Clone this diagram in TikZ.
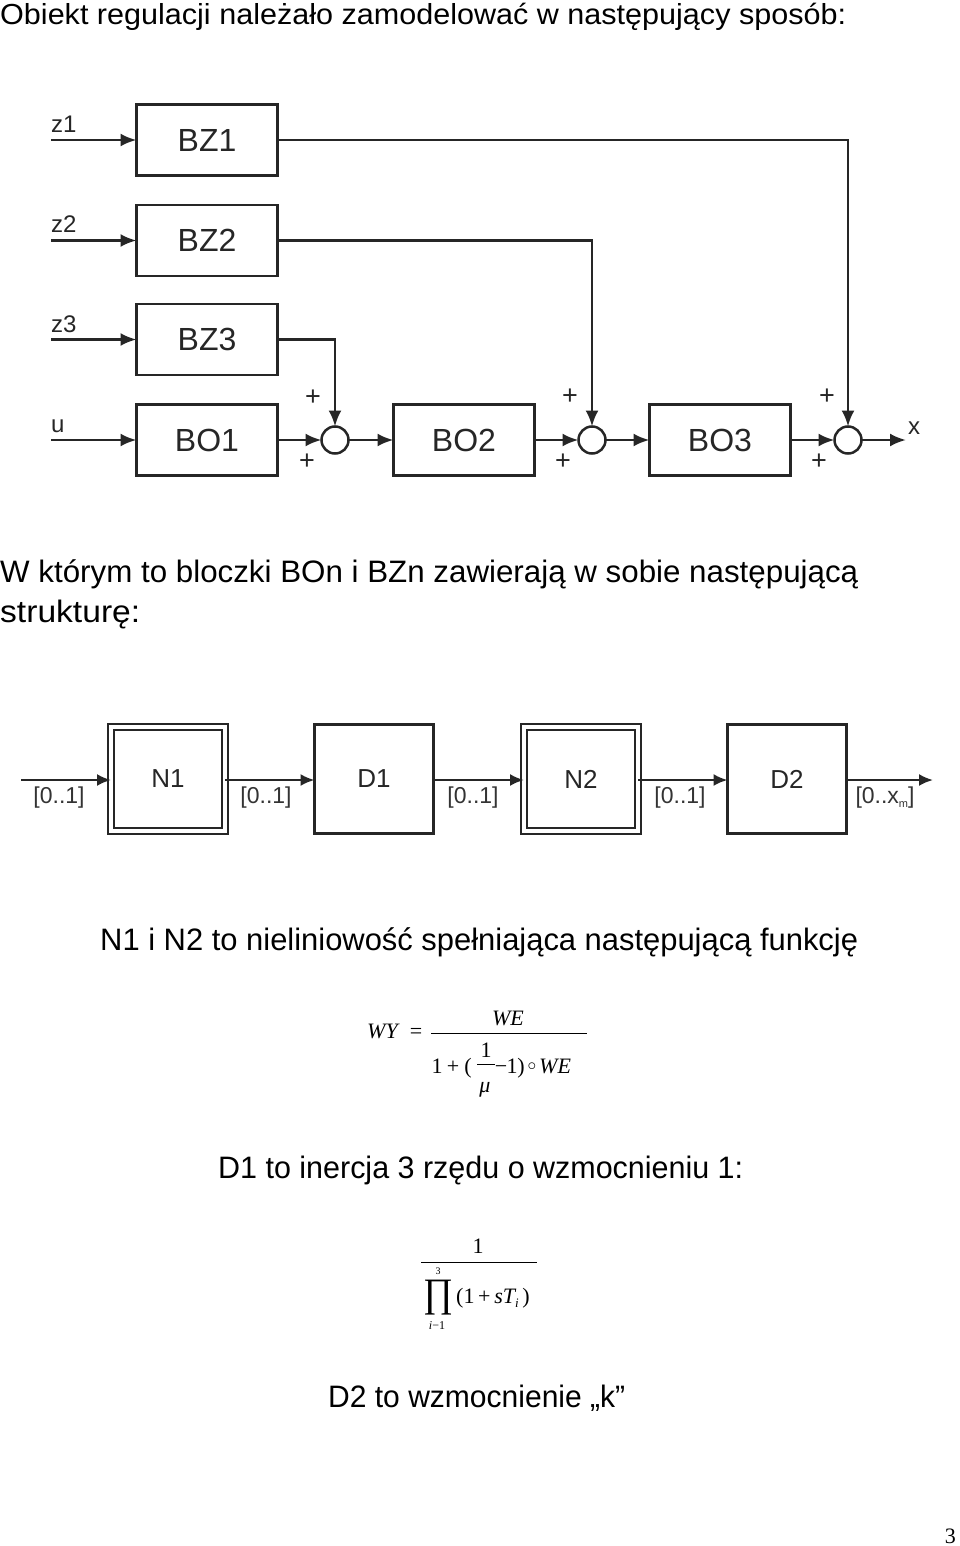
\documentclass[tikz,border=0pt]{standalone}
\usepackage{fontspec}
\usepackage{graphicx}
\setmainfont{Liberation Sans}
\newfontfamily\tms{Liberation Serif}
\usetikzlibrary{arrows.meta}
\newcommand{\fs}[1]{\fontsize{#1}{#1}\selectfont}
\begin{document}
\begin{tikzpicture}[x=1pt,y=-1pt,
  blk/.style={draw=black!85, line width=2.6pt, minimum width=141pt, minimum height=71pt, inner sep=0pt, outer sep=0pt, font=\fs{32}, text=black!85},
  sumc/.style={draw=black!85, circle, line width=2.5pt, minimum size=27pt, inner sep=0pt, outer sep=0pt},
  sig/.style={draw=black!85, line width=2.6pt, -{Latex[length=16pt,width=13pt]}},
  lbl/.style={font=\fs{24}, inner sep=0pt, text=black!85},
  pl/.style={font=\fs{27}, inner sep=0pt, text=black!85},
  sblk/.style={draw=black!85, line width=2.4pt, minimum width=119pt, minimum height=109pt, inner sep=0pt, outer sep=0pt, font=\fs{26}, text=black!85},
  dblk/.style={sblk, double, double distance=4pt, line width=2.2pt, minimum width=114pt, minimum height=104pt},
  ssig/.style={draw=black!85, line width=2.2pt, -{Latex[length=14pt,width=12pt]}},
  rng/.style={font=\fs{23}, inner sep=0pt, text=black!80},
  body/.style={anchor=base west, inner sep=0pt},
  mth/.style={inner sep=0pt, font=\tms\fs{22}}
]
\useasboundingbox (0,0) rectangle (960,1546);
\fill[white] (0,0) rectangle (960,1546);

% ---- texts ----
\node[body] (t1) at (0,25) {\resizebox{846pt}{\height}{\fs{29}Obiekt regulacji należało zamodelować w następujący sposób:}};
\node[body] (t2) at (0,582) {\resizebox{858pt}{\height}{\fs{31}W którym to bloczki BOn i BZn zawierają w sobie następującą}};
\node[body] (t3) at (0,622) {\resizebox{140pt}{\height}{\fs{31}strukturę:}};
\node[body] (t4) at (100,950) {\resizebox{758pt}{\height}{\fs{31}N1 i N2 to nieliniowość spełniająca następującą funkcję}};
\node[body] (t5) at (218,1178) {\resizebox{525pt}{\height}{\fs{31}D1 to inercja 3 rzędu o wzmocnieniu 1:}};
\node[body] (t6) at (328,1407) {\resizebox{297pt}{\height}{\fs{31}D2 to wzmocnienie „k”}};
\node[anchor=base east, inner sep=0pt, font=\tms\fs{22}] (pg) at (956,1543) {3};

% ---- block diagram 1 ----
\node[blk] (BZ1) at (207,140) {BZ1};
\node[blk] (BZ2) at (207,240.5) {BZ2};
\node[blk] (BZ3) at (207,339.5) {BZ3};
\node[blk] (BO1) at (207,440) {BO1};
\node[blk] (BO2) at (464,440) {BO2};
\node[blk] (BO3) at (720,440) {BO3};
\node[sumc] (S1) at (335,440) {};
\node[sumc] (S2) at (592,440) {};
\node[sumc] (S3) at (848,440) {};

\coordinate (iz1) at (51,140);
\coordinate (iz2) at (51,240.5);
\coordinate (iz3) at (51,339.5);
\coordinate (iu) at (51,440);
\coordinate (ox) at (906,440);

\node[lbl, anchor=base west] (lz1) at (51,133) {z1};
\node[lbl, anchor=base west] (lz2) at (51,233) {z2};
\node[lbl, anchor=base west] (lz3) at (51,332) {z3};
\node[lbl, anchor=base west] (lu) at (51,432) {u};
\node[lbl, anchor=base west] (lx) at (908,434) {x};

\draw[sig] (iz1) -- (BZ1.west);
\draw[sig] (iz2) -- (BZ2.west);
\draw[sig] (iz3) -- (BZ3.west);
\draw[sig] (iu) -- (BO1.west);
\draw[sig] (BZ3.east) -| (S1.north);
\draw[sig] (BZ2.east) -| (S2.north);
\draw[sig] (BZ1.east) -| (S3.north);
\draw[sig] (BO1.east) -- (S1.west);
\draw[sig] (S1.east) -- (BO2.west);
\draw[sig] (BO2.east) -- (S2.west);
\draw[sig] (S2.east) -- (BO3.west);
\draw[sig] (BO3.east) -- (S3.west);
\draw[sig] (S3.east) -- (ox);

\node[pl] (p1a) at (313,398) {+};
\node[pl] (p1b) at (307,462) {+};
\node[pl] (p2a) at (570,397) {+};
\node[pl] (p2b) at (563,462) {+};
\node[pl] (p3a) at (827,397) {+};
\node[pl] (p3b) at (819,462) {+};

% ---- block diagram 2 ----
\node[dblk] (N1) at (168,779) {N1};
\node[sblk] (D1) at (374,779) {D1};
\node[dblk] (N2) at (581,779) {N2};
\node[sblk] (D2) at (787,779) {D2};
\coordinate (in2) at (21,780);
\coordinate (out2) at (933,780);
\draw[ssig] (in2) -- (N1.west |- in2);
\draw[ssig] (N1.east |- in2) -- (D1.west |- in2);
\draw[ssig] (D1.east |- in2) -- (N2.west |- in2);
\draw[ssig] (N2.east |- in2) -- (D2.west |- in2);
\draw[ssig] (D2.east |- in2) -- (out2);
\node[rng] (r1) at (59,798) {[0..1]};
\node[rng] (r2) at (266,798) {[0..1]};
\node[rng] (r3) at (473,798) {[0..1]};
\node[rng] (r4) at (680,798) {[0..1]};
\node[rng] (r5) at (885,798) {[0..x\raisebox{-4pt}{\fs{11}m}]};

% ---- formula 1 ----
\node[mth, anchor=base west] (wy) at (367,1038) {\itshape WY};
\node[mth, anchor=base] (eq) at (416,1038) {=};
\draw[line width=1pt] (431,1033) coordinate (b1l) -- (587,1033) coordinate (b1r);
\node[mth, anchor=base] (we1) at (508,1025) {\itshape WE};
\node[mth, anchor=base] (d1) at (437,1073) {1};
\node[mth, anchor=base] (d2) at (453,1073) {+};
\node[mth, anchor=base] (d3) at (468,1073) {(};
\node[mth, anchor=base] (sn) at (486,1057) {1};
\draw[line width=0.8pt] (477,1064) coordinate (b2l) -- (495,1064) coordinate (b2r);
\node[mth, anchor=base] (mu) at (485,1092) {\itshape μ};
\node[mth, anchor=base] (d4) at (501,1073) {−};
\node[mth, anchor=base] (d5) at (512,1073) {1};
\node[mth, anchor=base] (d6) at (521,1073) {)};
\node[inner sep=0pt] (d7) at (532,1067) {\fs{18}$\circ$};
\node[mth, anchor=base west] (we2) at (539,1073) {\itshape WE};

% ---- formula 2 ----
\node[mth, anchor=base] (n1) at (478,1253) {1};
\draw[line width=1pt] (421,1262) coordinate (b3l) -- (537,1262) coordinate (b3r);
\node[inner sep=0pt, font=\tms\fs{10}, anchor=base] (up3) at (438,1274) {3};
\node[inner sep=0pt] (pr) at (438,1298) {\resizebox*{30pt}{35pt}{\tms ∏}};
\node[mth, anchor=base west] (fa) at (456,1303) {(1\,+\,\itshape sT\upshape\raisebox{-4pt}{\fs{13}\itshape i}\,)};
\node[inner sep=0pt, font=\tms\fs{12}, anchor=base] (lo) at (437,1329) {\itshape i\upshape −1};
\end{tikzpicture}
\end{document}
